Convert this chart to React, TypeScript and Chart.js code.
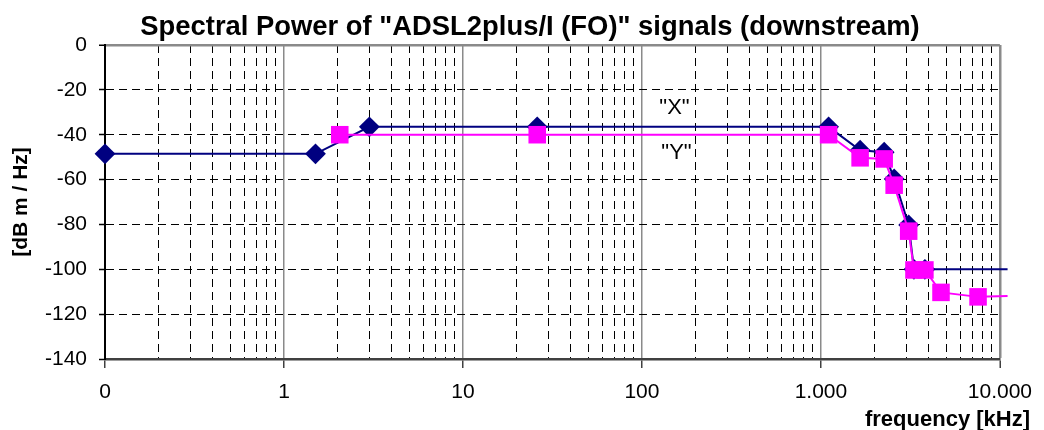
import React, { useEffect, useRef } from 'react';
import { Chart, registerables } from 'chart.js';

Chart.register(...registerables);

const chartTitle = 'Spectral Power of "ADSL2plus/I (FO)" signals (downstream)';
const xAxisTitle = 'frequency [kHz]';
const yAxisTitle = '[dB m / Hz]';

// Series "X" (navy diamonds)
const xFreq = [0.1, 1.5, 3.0, 26, 1104, 1656, 2257, 2566, 3093, 3311, 3811, 11040];
const xLevel = [-48.5, -48.5, -36.5, -36.5, -36.5, -46.9, -47.8, -59.7, -80.2, -100, -100, -100];

// Series "Y" (magenta squares)
const yFreq = [2.05, 26, 1104, 1656, 2257, 2566, 3093, 3311, 3811, 4688, 7551, 11040];
const yLevel = [-40, -40, -40, -50.3, -50.8, -62.5, -83, -100.3, -100.3, -110.3, -112.3, -111.9];

// In-chart series labels
const seriesNames = ['"X"', '"Y"'];
const labelFreq = [152, 156];
const labelLevel = [-27.9, -48.3];

// Axis ticks
const xTickValues = [0.1, 1, 10, 100, 1000, 10000];
const xTickLabels = ['0', '1', '10', '100', '1.000', '10.000'];
const yMin = -140;
const yMax = 0;
const yStep = 20;

const FONT = '"Liberation Sans", Arial, Helvetica, sans-serif';

const isMajor = (v: number) => xTickValues.some((t) => Math.abs(t - v) < t * 1e-9);

const buildXTicks = () => {
  const ticks: { value: number }[] = [];
  for (let d = 0; d < xTickValues.length - 1; d++) {
    const base = xTickValues[d];
    for (let k = 1; k <= 9; k++) {
      ticks.push({ value: k === 1 ? base : Number((base * k).toPrecision(8)) });
    }
  }
  ticks.push({ value: xTickValues[xTickValues.length - 1] });
  return ticks;
};

const textPlugin = {
  id: 'chartTexts',
  afterDraw(chart: any) {
    const { ctx, scales } = chart;
    ctx.save();
    ctx.fillStyle = '#000';
    ctx.font = `bold 27.4px ${FONT}`;
    ctx.textAlign = 'center';
    ctx.textBaseline = 'alphabetic';
    ctx.fillText(chartTitle, 530, 35);
    ctx.font = `bold 22px ${FONT}`;
    ctx.textAlign = 'right';
    ctx.fillText(xAxisTitle, 1030, 426);
    ctx.font = `22px ${FONT}`;
    ctx.textAlign = 'center';
    ctx.textBaseline = 'middle';
    seriesNames.forEach((s, i) => {
      ctx.fillText(s, scales.x.getPixelForValue(labelFreq[i]), scales.y.getPixelForValue(labelLevel[i]));
    });
    ctx.restore();
  },
};

export default function App() {
  const ref = useRef<HTMLCanvasElement>(null);

  useEffect(() => {
    Chart.defaults.font.family = FONT;
    const lastY = yFreq.length - 1;
    const lastX = xFreq.length - 1;
    const chart = new Chart(ref.current as HTMLCanvasElement, {
      type: 'line',
      data: {
        datasets: [
          {
            label: 'Y',
            data: yFreq.map((f, i) => ({ x: f, y: yLevel[i] })),
            borderColor: '#FF00FF',
            backgroundColor: '#FF00FF',
            borderWidth: 2,
            pointStyle: 'rect',
            pointRadius: (c: any) => (c.dataIndex === lastY ? 0 : 12.4),
            pointBorderWidth: 0,
            pointBackgroundColor: '#FF00FF',
            tension: 0,
            clip: false as any,
          },
          {
            label: 'X',
            data: xFreq.map((f, i) => ({ x: f, y: xLevel[i] })),
            borderColor: '#000080',
            backgroundColor: '#000080',
            borderWidth: 2,
            pointStyle: 'rectRot',
            pointRadius: (c: any) => (c.dataIndex === lastX ? 0 : 10.4),
            pointBorderWidth: 0,
            pointBackgroundColor: '#000080',
            tension: 0,
            clip: false as any,
          },
        ],
      },
      options: {
        animation: false,
        responsive: false,
        events: [],
        layout: { padding: { top: 45, right: 36, bottom: 0, left: 0 } },
        plugins: {
          legend: { display: false },
          title: { display: false },
          tooltip: { enabled: false },
        },
        scales: {
          x: {
            type: 'logarithmic',
            min: xTickValues[0],
            max: xTickValues[xTickValues.length - 1],
            afterBuildTicks: (scale: any) => {
              scale.ticks = buildXTicks();
            },
            afterFit: (scale: any) => {
              scale.height = 71;
            },
            ticks: {
              autoSkip: false,
              maxRotation: 0,
              minRotation: 0,
              padding: 12,
              color: '#000',
              font: { size: 21 },
              callback: (value: any) => {
                const v = Number(value);
                const i = xTickValues.findIndex((t) => Math.abs(t - v) < t * 1e-9);
                return i >= 0 ? xTickLabels[i] : '';
              },
            },
            grid: {
              color: (c: any) => {
                const v = c.tick ? c.tick.value : 0;
                if (Math.abs(v - xTickValues[0]) < 1e-12) return 'rgba(0,0,0,0)';
                return isMajor(v) ? '#8a8a8a' : '#000';
              },
              lineWidth: (c: any) => {
                const v = c.tick ? c.tick.value : 0;
                if (v === xTickValues[xTickValues.length - 1]) return 2.5;
                return isMajor(v) ? 1.5 : 1;
              },
              tickColor: (c: any) => (c.tick && isMajor(c.tick.value) ? '#404040' : 'rgba(0,0,0,0)'),
              tickLength: 9,
              tickWidth: 1.5,
            },
            border: {
              color: '#404040',
              width: 2.5,
              dash: (c: any) => (c.tick && !isMajor(c.tick.value) ? [8, 5] : []),
            },
          },
          y: {
            type: 'linear',
            min: yMin,
            max: yMax,
            afterFit: (scale: any) => {
              scale.width = 105;
            },
            ticks: {
              stepSize: yStep,
              color: '#000',
              font: { size: 21 },
              padding: 12,
            },
            grid: {
              color: (c: any) => {
                const v = c.tick ? c.tick.value : 1;
                if (v === yMin) return 'rgba(0,0,0,0)';
                if (v === yMax) return '#8a8a8a';
                return '#000';
              },
              lineWidth: (c: any) => (c.tick && c.tick.value === yMax ? 2.5 : 1),
              tickColor: '#000',
              tickLength: 6,
              tickWidth: 1.5,
            },
            border: {
              color: '#000',
              width: 2,
              dash: (c: any) => (c.tick && c.tick.value !== yMax && c.tick.value !== yMin ? [8, 5] : []),
            },
            title: {
              display: true,
              text: yAxisTitle,
              color: '#000',
              font: { size: 21, weight: 'bold' },
              padding: { top: 9, bottom: 0 },
            },
          },
        },
      } as any,
      plugins: [textPlugin],
    });
    return () => chart.destroy();
  }, []);

  return (
    <div style={{ position: 'absolute', left: 0, top: 0, width: 1044, height: 430, background: '#fff' }}>
      <canvas ref={ref} width={1044} height={430} style={{ display: 'block', width: 1044, height: 430 }} />
    </div>
  );
}
